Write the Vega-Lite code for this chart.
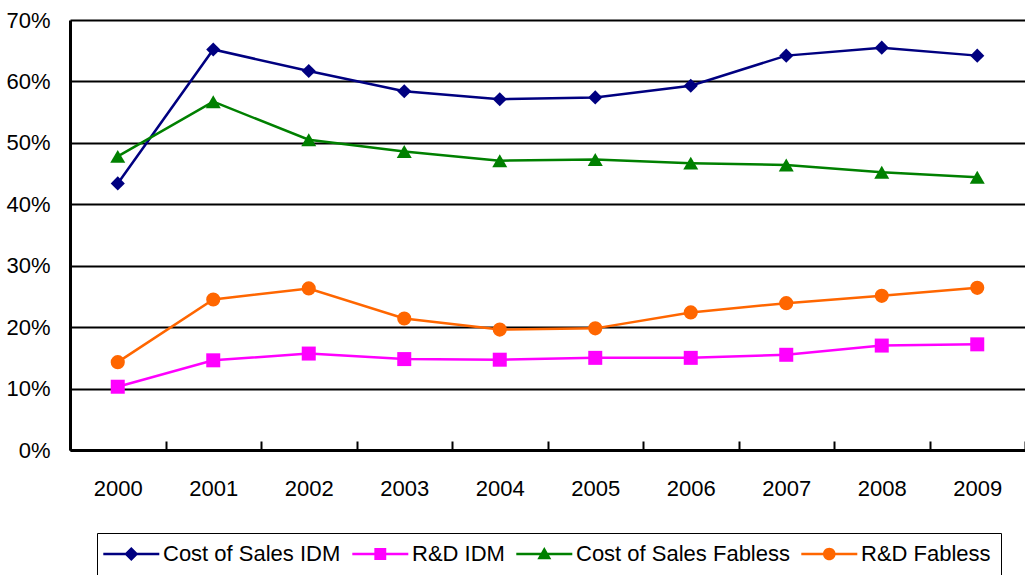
{
  "$schema": "https://vega.github.io/schema/vega-lite/v6.json",
  "width": 955,
  "height": 430,
  "autosize": {"type": "none"},
  "padding": {"left": 70, "top": 20, "right": 0, "bottom": 125},
  "config": {
    "font": "Liberation Sans, Arial, sans-serif",
    "view": {"stroke": null}
  },
  "data": {
    "values": [
      {"year": "2000", "series": "Cost of Sales IDM", "value": 0.434},
      {"year": "2001", "series": "Cost of Sales IDM", "value": 0.652},
      {"year": "2002", "series": "Cost of Sales IDM", "value": 0.617},
      {"year": "2003", "series": "Cost of Sales IDM", "value": 0.584},
      {"year": "2004", "series": "Cost of Sales IDM", "value": 0.571},
      {"year": "2005", "series": "Cost of Sales IDM", "value": 0.574},
      {"year": "2006", "series": "Cost of Sales IDM", "value": 0.593},
      {"year": "2007", "series": "Cost of Sales IDM", "value": 0.642},
      {"year": "2008", "series": "Cost of Sales IDM", "value": 0.655},
      {"year": "2009", "series": "Cost of Sales IDM", "value": 0.642},
      {"year": "2000", "series": "R&D IDM", "value": 0.103},
      {"year": "2001", "series": "R&D IDM", "value": 0.146},
      {"year": "2002", "series": "R&D IDM", "value": 0.157},
      {"year": "2003", "series": "R&D IDM", "value": 0.148},
      {"year": "2004", "series": "R&D IDM", "value": 0.147},
      {"year": "2005", "series": "R&D IDM", "value": 0.150},
      {"year": "2006", "series": "R&D IDM", "value": 0.150},
      {"year": "2007", "series": "R&D IDM", "value": 0.155},
      {"year": "2008", "series": "R&D IDM", "value": 0.170},
      {"year": "2009", "series": "R&D IDM", "value": 0.172},
      {"year": "2000", "series": "Cost of Sales Fabless", "value": 0.478},
      {"year": "2001", "series": "Cost of Sales Fabless", "value": 0.567},
      {"year": "2002", "series": "Cost of Sales Fabless", "value": 0.505},
      {"year": "2003", "series": "Cost of Sales Fabless", "value": 0.486},
      {"year": "2004", "series": "Cost of Sales Fabless", "value": 0.471},
      {"year": "2005", "series": "Cost of Sales Fabless", "value": 0.473},
      {"year": "2006", "series": "Cost of Sales Fabless", "value": 0.467},
      {"year": "2007", "series": "Cost of Sales Fabless", "value": 0.464},
      {"year": "2008", "series": "Cost of Sales Fabless", "value": 0.452},
      {"year": "2009", "series": "Cost of Sales Fabless", "value": 0.444},
      {"year": "2000", "series": "R&D Fabless", "value": 0.143},
      {"year": "2001", "series": "R&D Fabless", "value": 0.245},
      {"year": "2002", "series": "R&D Fabless", "value": 0.263},
      {"year": "2003", "series": "R&D Fabless", "value": 0.214},
      {"year": "2004", "series": "R&D Fabless", "value": 0.196},
      {"year": "2005", "series": "R&D Fabless", "value": 0.198},
      {"year": "2006", "series": "R&D Fabless", "value": 0.224},
      {"year": "2007", "series": "R&D Fabless", "value": 0.239},
      {"year": "2008", "series": "R&D Fabless", "value": 0.251},
      {"year": "2009", "series": "R&D Fabless", "value": 0.264}
    ]
  },
  "encoding": {
    "x": {
      "field": "year",
      "type": "ordinal",
      "bandPosition": 0.5,
      "scale": {"type": "band", "paddingInner": 0, "paddingOuter": 0},
      "axis": {
        "title": null,
        "labelAngle": 0,
        "labelFontSize": 22,
        "labelColor": "#000000",
        "labelPadding": 37,
        "tickBand": "extent",
        "tickSize": -9,
        "tickWidth": 2,
        "tickColor": "#000000",
        "domainColor": "#000000",
        "domainWidth": 3,
        "grid": false
      }
    },
    "y": {
      "field": "value",
      "type": "quantitative",
      "scale": {"domain": [0, 0.7], "nice": false},
      "axis": {
        "title": null,
        "values": [0, 0.1, 0.2, 0.3, 0.4, 0.5, 0.6, 0.7],
        "format": ".0%",
        "labelFontSize": 22,
        "labelColor": "#000000",
        "labelPadding": 20,
        "ticks": false,
        "domainColor": "#000000",
        "domainWidth": 3,
        "grid": true,
        "gridColor": "#000000",
        "gridWidth": 2,
        "gridOpacity": 1
      }
    },
    "color": {
      "field": "series",
      "type": "nominal",
      "scale": {
        "domain": ["Cost of Sales IDM", "R&D IDM", "Cost of Sales Fabless", "R&D Fabless"],
        "range": ["#000080", "#FF00FF", "#008000", "#FF6600"]
      },
      "legend": {
        "title": null,
        "orient": "none",
        "legendX": 27,
        "legendY": 513,
        "direction": "horizontal",
        "columns": 4,
        "labelFontSize": 22,
        "labelColor": "#000000",
        "labelLimit": 400,
        "labelOffset": 34,
        "symbolSize": 196,
        "symbolStrokeWidth": 0,
        "columnPadding": 11,
        "padding": 10,
        "strokeColor": "#000000",
        "encode": {
          "symbols": {
            "update": {
              "shape": {"signal": "datum.value === 'Cost of Sales IDM' ? 'M-2.1,-0.17H5.9V0.17H-2.1Z M0.9,0L1.9,-1L2.9,0L1.9,1Z' : datum.value === 'R&D IDM' ? 'M-2.1,-0.17H5.9V0.17H-2.1Z M1.05,-0.85H2.75V0.85H1.05Z' : datum.value === 'Cost of Sales Fabless' ? 'M-2.1,-0.17H5.9V0.17H-2.1Z M1.9,-1L2.9,0.75L0.9,0.75Z' : 'M-2.1,-0.17H5.9V0.17H-2.1Z M1,0A0.9,0.9,0,1,1,2.8,0A0.9,0.9,0,1,1,1,0Z'"},
              "fill": {"scale": "color", "field": "value"},
              "opacity": {"value": 1},
              "strokeWidth": {"value": 0}
            }
          }
        }
      }
    }
  },
  "layer": [
    {"mark": {"type": "line", "strokeWidth": 2.5}},
    {
      "transform": [{"filter": "datum.series === 'Cost of Sales IDM'"}],
      "mark": {"type": "point", "filled": true, "opacity": 1, "size": 200, "shape": "diamond"}
    },
    {
      "transform": [{"filter": "datum.series === 'R&D IDM'"}],
      "mark": {"type": "point", "filled": true, "opacity": 1, "size": 196, "shape": "square"}
    },
    {
      "transform": [{"filter": "datum.series === 'Cost of Sales Fabless'"}],
      "mark": {"type": "point", "filled": true, "opacity": 1, "size": 225, "shape": "triangle-up"}
    },
    {
      "transform": [{"filter": "datum.series === 'R&D Fabless'"}],
      "mark": {"type": "point", "filled": true, "opacity": 1, "size": 200, "shape": "circle"}
    }
  ]
}
